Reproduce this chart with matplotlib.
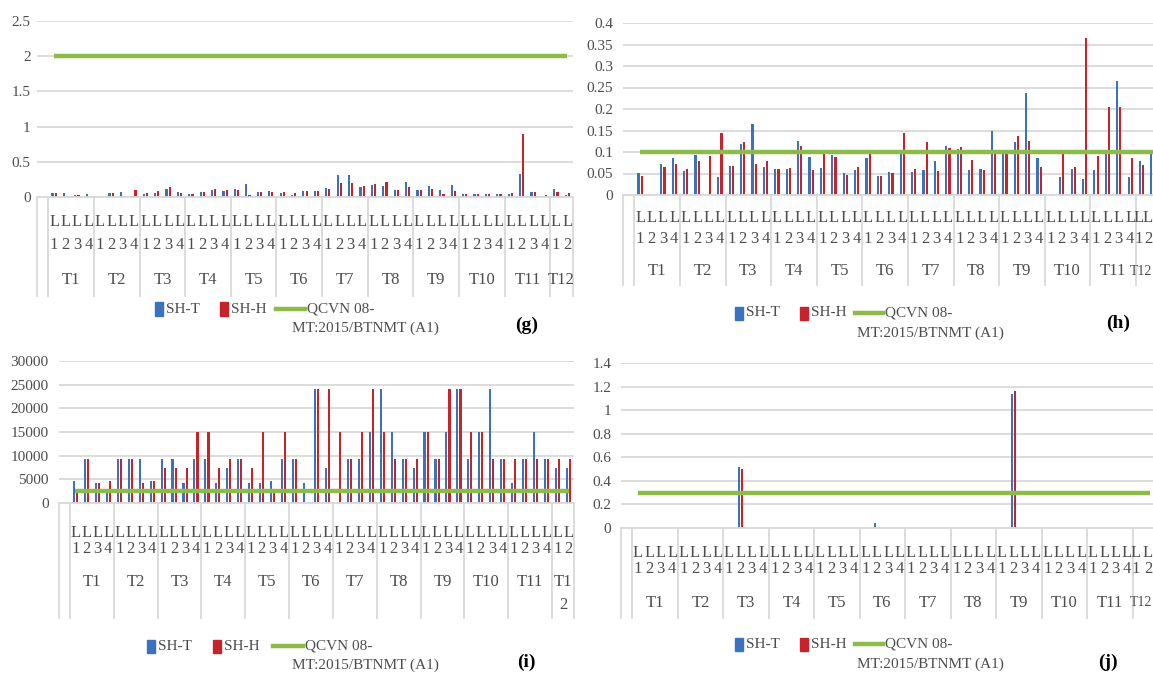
import numpy as np
import matplotlib
matplotlib.use('Agg')
import matplotlib.pyplot as plt
from matplotlib.patches import Rectangle
from matplotlib.lines import Line2D
from matplotlib.transforms import blended_transform_factory

plt.rcParams['font.family'] = ['Liberation Serif', 'DejaVu Serif']

# ---- categories -------------------------------------------------------
months = ['T1', 'T2', 'T3', 'T4', 'T5', 'T6', 'T7', 'T8', 'T9', 'T10', 'T11', 'T12']
sites_per_month = [4, 4, 4, 4, 4, 4, 4, 4, 4, 4, 4, 2]
site_letter = ['L', 'L', 'L', 'L']
site_digit = ['1', '2', '3', '4']
series_names = ['SH-T', 'SH-H']
limit_name = ['QCVN 08-', 'MT:2015/BTNMT (A1)']

# ---- (g) --------------------------------------------------------------
g_sht = [0.06, 0.06, 0.03, 0.045,   0.0, 0.06, 0.07, 0.02,
         0.045, 0.06, 0.11, 0.07,   0.045, 0.07, 0.095, 0.085,
         0.11, 0.19, 0.07, 0.085,   0.06, 0.025, 0.09, 0.085,
         0.13, 0.31, 0.31, 0.14,    0.17, 0.155, 0.10, 0.21,
         0.095, 0.15, 0.095, 0.175, 0.047, 0.038, 0.047, 0.047,
         0.038, 0.32, 0.076, 0.014, 0.12, 0.028]
g_shh = [0.06, 0.02, 0.025, 0.0,    0.0, 0.06, 0.02, 0.10,
         0.06, 0.085, 0.14, 0.06,   0.045, 0.07, 0.11, 0.095,
         0.095, 0.025, 0.07, 0.07,  0.07, 0.06, 0.08, 0.085,
         0.12, 0.20, 0.20, 0.15,    0.19, 0.21, 0.095, 0.14,
         0.10, 0.12, 0.047, 0.09,   0.047, 0.038, 0.038, 0.038,
         0.05, 0.90, 0.066, 0.024,  0.076, 0.05]
g_limit = 2.0

# ---- (h) --------------------------------------------------------------
h_sht = [0.052, 0.0, 0.072, 0.085,   0.056, 0.093, 0.0, 0.042,
         0.068, 0.119, 0.164, 0.066, 0.06, 0.06, 0.125, 0.089,
         0.062, 0.092, 0.052, 0.057, 0.086, 0.044, 0.054, 0.097,
         0.053, 0.058, 0.078, 0.113, 0.106, 0.058, 0.06, 0.148,
         0.097, 0.123, 0.237, 0.085, 0.0, 0.041, 0.061, 0.037,
         0.057, 0.097, 0.266, 0.041, 0.08, 0.097]
h_shh = [0.045, 0.0, 0.066, 0.073,   0.06, 0.078, 0.091, 0.144,
         0.068, 0.123, 0.073, 0.078, 0.06, 0.062, 0.115, 0.058,
         0.097, 0.089, 0.047, 0.064, 0.097, 0.044, 0.052, 0.145,
         0.06, 0.123, 0.056, 0.109,  0.111, 0.082, 0.057, 0.095,
         0.097, 0.137, 0.125, 0.064, 0.0, 0.097, 0.064, 0.365,
         0.091, 0.204, 0.204, 0.085, 0.07, 0.09]
h_limit = 0.1

# ---- (i) --------------------------------------------------------------
i_sht = [4600, 9300, 4300, 2300,    9300, 9300, 9300, 4600,
         9300, 9300, 4300, 9300,    9300, 4300, 7500, 9300,
         4300, 4300, 4600, 9300,    9300, 4300, 24000, 7500,
         230, 9300, 9300, 15000,    24000, 15000, 9300, 7500,
         15000, 9300, 15000, 24000, 9300, 15000, 24000, 9300,
         4300, 9300, 15000, 9300,   7500, 7500]
i_shh = [2300, 9300, 4300, 4600,    9300, 9300, 4300, 4600,
         7500, 7500, 7500, 15000,   15000, 7500, 9300, 9300,
         7500, 15000, 2100, 15000,  9300, 0, 24000, 24000,
         15000, 9300, 15000, 24000, 15000, 9300, 9300, 9300,
         15000, 9300, 24000, 24000, 15000, 15000, 9300, 9300,
         9300, 9300, 9300, 9300,    9300, 9300]
i_limit = 2500

# ---- (j) --------------------------------------------------------------
j_sht = [0, 0, 0, 0,  0, 0, 0, 0,  0, 0.52, 0, 0,  0, 0, 0, 0,
         0, 0, 0, 0,  0, 0.04, 0, 0,  0, 0, 0, 0,  0, 0, 0, 0,
         0, 1.14, 0, 0,  0, 0, 0, 0,  0, 0, 0, 0,  0, 0]
j_shh = [0, 0, 0, 0,  0, 0, 0, 0,  0, 0.50, 0, 0,  0, 0, 0, 0,
         0, 0, 0, 0,  0, 0, 0, 0,  0, 0, 0, 0,  0, 0, 0, 0,
         0, 1.16, 0, 0,  0, 0, 0, 0,  0, 0, 0, 0,  0, 0]
j_limit = 0.3

# ---- styling ----------------------------------------------------------
BLUE = '#3A72BE'
RED = '#C8232B'
GREEN = '#8DBB4A'
GRID = '#D9D9D9'
TXT = '#4D4D4D'

W, H = 1153, 675
fig = plt.figure(figsize=(W / 100, H / 100), dpi=100)


def fx(px):
    return px / W


def fy(py):
    return 1 - py / H


def draw_panel(box, xmax, ymax, ystep, pad, sht, shh, limit, rows, leg, tag,
               wrap_last=False):
    left, top, right, bottom = box
    ax = fig.add_axes([fx(left), fy(bottom), fx(right - left), (bottom - top) / H])
    n = len(sht)
    x = np.arange(n)
    ax.bar(x - 0.14, sht, width=0.19, color=BLUE, zorder=2)
    ax.bar(x + 0.14, shh, width=0.19, color=RED, zorder=2)
    ax.plot(x, [limit] * n, color=GREEN, lw=3.2, solid_capstyle='butt', zorder=3)

    ax.set_xlim(-1.5, xmax)
    ax.set_ylim(0, ymax)
    ticks = np.round(np.arange(0, ymax + ystep / 2, ystep), 4)
    ax.set_yticks(ticks)
    ax.set_yticklabels(['%g' % t for t in ticks])
    ax.set_xticks([])
    ax.tick_params(axis='y', length=0, pad=pad, labelsize=11, labelcolor=TXT)
    ax.yaxis.grid(True, color=GRID, lw=1.3)
    ax.set_axisbelow(True)
    for s in ('top', 'right', 'left'):
        ax.spines[s].set_visible(False)
    ax.spines['bottom'].set_color(GRID)
    ax.spines['bottom'].set_linewidth(1.3)

    tr = blended_transform_factory(ax.transData, fig.transFigure)
    l_y, d_y, t_y, sep_y = rows

    # positions of the site labels; when the plot is cut at the right
    # edge the last pair is squeezed so both stay readable
    pos = [float(k) for k in range(n)]
    align = ['center'] * n
    cut = pos[-1] + 0.45 > xmax
    if cut:
        pos[-1] = xmax - 0.05
        align[-1] = 'right'
        pos[-2] -= 0.25

    k = 0
    bounds = [-1.5, -0.5]
    for m, cnt in zip(months, sites_per_month):
        for s in range(cnt):
            ax.text(pos[k], fy(l_y), site_letter[s], transform=tr, ha=align[k],
                    va='center', fontsize=12, color=TXT)
            ax.text(pos[k], fy(d_y), site_digit[s], transform=tr, ha=align[k],
                    va='center', fontsize=12, color=TXT)
            k += 1
        centre = k - cnt / 2 - 0.5
        if wrap_last and m == months[-1]:
            ax.text(centre, fy(t_y), m[:2], transform=tr, ha='center', va='center',
                    fontsize=12, color=TXT)
            ax.text(centre, fy(t_y + 23), m[2:], transform=tr, ha='center',
                    va='center', fontsize=12, color=TXT)
        elif cut and m == months[-1]:
            ax.text(xmax - 0.05, fy(t_y), m, transform=tr, ha='right',
                    va='center', fontsize=10, color=TXT)
        else:
            ax.text(centre, fy(t_y), m, transform=tr, ha='center', va='center',
                    fontsize=12, color=TXT)
        bounds.append(k - 0.5)
    for b in bounds:
        if b <= xmax:
            ax.add_line(Line2D([b, b], [fy(bottom), fy(sep_y)], transform=tr,
                               color=GRID, lw=1.3, clip_on=False))

    # legend
    bx, rx, lx0, lx1, ly, mx, my = leg
    for sx, col, name in ((bx, BLUE, series_names[0]), (rx, RED, series_names[1])):
        fig.patches.append(Rectangle((fx(sx), fy(ly + 6.5)), fx(8), 13 / H,
                                     transform=fig.transFigure, color=col))
        fig.text(fx(sx + 11), fy(ly), name, ha='left', va='center',
                 fontsize=11, color=TXT)
    fig.add_artist(Line2D([fx(lx0), fx(lx1)], [fy(ly), fy(ly)],
                          transform=fig.transFigure, color=GREEN, lw=3.2))
    fig.text(fx(lx1 + 2), fy(ly), limit_name[0], ha='left', va='center',
             fontsize=11, color=TXT)
    fig.text(fx(mx), fy(my), limit_name[1], ha='left', va='center',
             fontsize=11, color=TXT)
    fig.text(fx(tag[1]), fy(tag[2]), tag[0], ha='center', va='center',
             fontsize=14, fontweight='bold', color='black')
    return ax


draw_panel((37, 21, 573, 197), 45.5, 2.5, 0.5, 4.5, g_sht, g_shh, g_limit,
           (222, 245, 280, 296), (155, 220, 276, 305, 309, 292, 328),
           ('(g)', 527, 325))
draw_panel((623, 23, 1153, 195), 45.0, 0.4, 0.05, 7, h_sht, h_shh, h_limit,
           (218, 239, 271, 285), (735, 800, 855, 883, 313, 857, 333),
           ('(h)', 1118, 323))
draw_panel((59, 361, 574, 503), 45.5, 30000, 5000, 7.5, i_sht, i_shh, i_limit,
           (533, 549, 582, 618), (147, 213, 273, 303, 646, 292, 665),
           ('(i)', 526, 662), wrap_last=True)
draw_panel((621, 363, 1153, 528), 45.3, 1.4, 0.2, 7, j_sht, j_shh, j_limit,
           (553, 569, 603, 618), (735, 800, 855, 883, 644, 857, 664),
           ('(j)', 1108, 662))

fig.savefig('out.png', dpi=100)
